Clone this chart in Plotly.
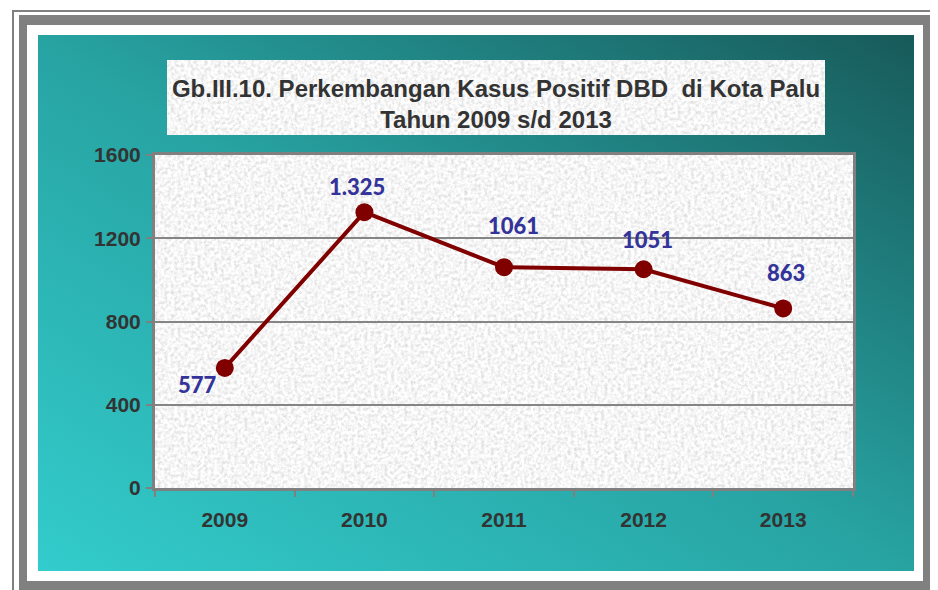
import base64
import plotly.graph_objects as go

# ---- data ----
years = ["2009", "2010", "2011", "2012", "2013"]
cases = [577, 1325, 1061, 1051, 863]
labels = ["577", "1.325", "1061", "1051", "863"]
label_dx = [-27, -7, 9, 4, 3]
label_dy = [-17, 26, 42, 30, 36]
y_ticks = [0, 400, 800, 1200, 1600]

# page body has an 8px margin; the figure is laid out in page coords minus 8
OFF = 8
W, H = 938 - OFF, 590 - OFF
L, R, T, B = 155 - OFF, 85, 155 - OFF, 102
PW, PH = W - L - R, H - T - B


def sx(v):
    return v - OFF


svg = f'''<svg xmlns="http://www.w3.org/2000/svg" width="{W}" height="{H}" viewBox="0 0 {W} {H}" preserveAspectRatio="none">
<defs>
<linearGradient id="g" x1="0" y1="1" x2="1" y2="0">
<stop offset="0" stop-color="#33CCCC"/>
<stop offset="0.5" stop-color="#27A3A2"/>
<stop offset="1" stop-color="#185A5A"/>
</linearGradient>
<filter id="n" x="0" y="0" width="1" height="1" filterUnits="objectBoundingBox">
<feTurbulence type="fractalNoise" baseFrequency="0.3" numOctaves="3" seed="4"/>
<feColorMatrix type="matrix" values="0.6 0 0 0 0.62  0.6 0 0 0 0.62  0.6 0 0 0 0.62  0 0 0 0 1"/>
</filter>
</defs>
<rect x="0" y="0" width="{W}" height="{H}" fill="#ffffff"/>
<rect x="{sx(12)}" y="{sx(10)}" width="{W}" height="2" fill="#808080"/>
<rect x="{sx(12)}" y="{sx(10)}" width="2" height="{H}" fill="#808080"/>
<rect x="{sx(936)}" y="{sx(10)}" width="2" height="{H}" fill="#808080"/>
<rect x="{sx(19)}" y="{sx(15)}" width="{934-19}" height="{H}" fill="#808080"/>
<rect x="{sx(27)}" y="{sx(25)}" width="{923-27}" height="{581-25}" fill="#ffffff"/>
<rect x="{sx(38)}" y="{sx(35)}" width="{914-38}" height="{571-35}" fill="url(#g)"/>
<rect x="{sx(167)}" y="{sx(60)}" width="{825-167}" height="{135-60}" fill="#eeeeee" filter="url(#n)"/>
<rect x="{L}" y="{T}" width="{PW}" height="{PH}" fill="#eeeeee" filter="url(#n)"/>
</svg>'''
src = "data:image/svg+xml;base64," + base64.b64encode(svg.encode()).decode()

fig = go.Figure()
fig.add_trace(go.Scatter(
    x=years, y=cases, mode="lines+markers",
    line=dict(color="#800000", width=4),
    marker=dict(color="#800000", size=18),
    hoverinfo="skip", showlegend=False,
))

for i, (y, t, dx, dy) in enumerate(zip(cases, labels, label_dx, label_dy)):
    fig.add_annotation(x=i, y=y, xref="x", yref="y", text=t, showarrow=False,
                       xshift=dx, yshift=dy,
                       font=dict(family="Lato", size=22, color="#333399", weight=900))

fig.add_layout_image(dict(
    source=src, xref="paper", yref="paper",
    x=-L / PW, y=(PH + T) / PH, sizex=W / PW, sizey=H / PH,
    xanchor="left", yanchor="top", sizing="stretch", layer="below",
))

fig.update_layout(
    width=W, height=H,
    margin=dict(l=L, r=R, t=T, b=B, pad=0),
    paper_bgcolor="#ffffff", plot_bgcolor="rgba(0,0,0,0)",
    title=dict(
        text="Gb.III.10. Perkembangan Kasus Positif DBD  di Kota Palu<br>Tahun 2009 s/d 2013",
        x=sx(496) / W, xanchor="center", y=1 - sx(97) / H, yanchor="middle", yref="container",
        font=dict(family="Liberation Sans, Arial", size=24, color="#333333", weight="bold"),
    ),
    xaxis=dict(
        type="category", range=[-0.5, 4.5], tickson="boundaries",
        ticks="outside", ticklen=6, tickwidth=2, tickcolor="#808080",
        showline=True, linecolor="#808080", linewidth=3, mirror=True,
        showgrid=False, ticklabelstandoff=11,
        tickfont=dict(family="Liberation Sans, Arial", size=21, color="#333333", weight="bold"),
    ),
    yaxis=dict(
        range=[0, 1600], tickvals=y_ticks,
        ticks="outside", ticklen=6, tickwidth=2, tickcolor="#808080",
        showline=True, linecolor="#808080", linewidth=3, mirror=True,
        showgrid=True, gridcolor="#858585", gridwidth=2, zeroline=False,
        ticklabelstandoff=1,
        tickfont=dict(family="Liberation Sans, Arial", size=21, color="#333333", weight="bold"),
    ),
)

fig.write_html("out.html")
